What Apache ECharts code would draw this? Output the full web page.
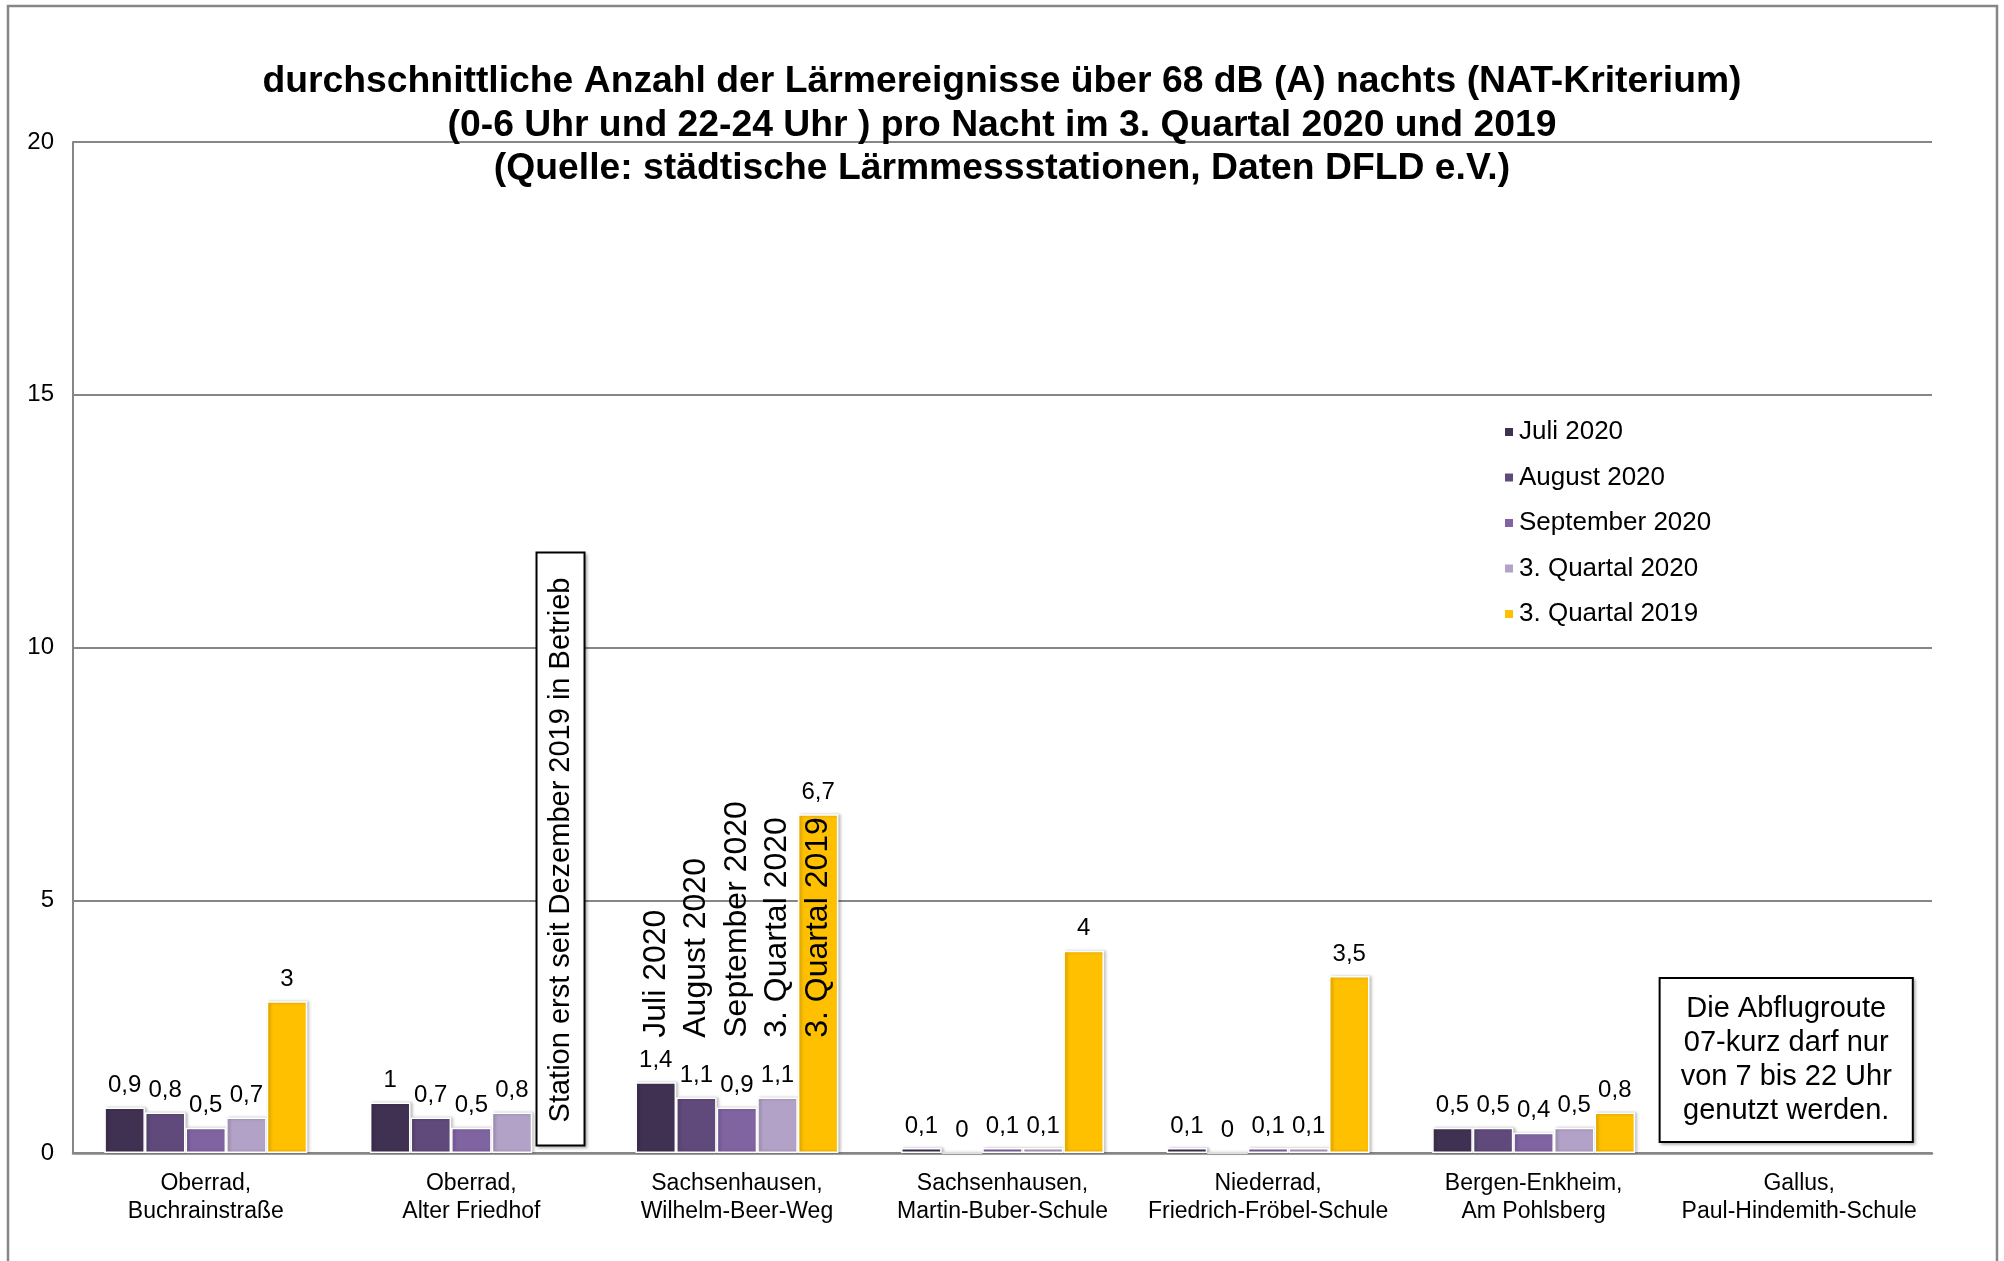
<!DOCTYPE html>
<html>
<head>
<meta charset="utf-8">
<script src="https://cdn.jsdelivr.net/npm/echarts@6/dist/echarts.min.js"></script>
<style>
html,body{margin:0;padding:0;background:#fff;}
#chart{width:2004px;height:1261px;}
</style>
</head>
<body>
<div id="chart"></div>
<script>
const categories = [
  "Oberrad,\nBuchrainstraße",
  "Oberrad,\nAlter Friedhof",
  "Sachsenhausen,\nWilhelm-Beer-Weg",
  "Sachsenhausen,\nMartin-Buber-Schule",
  "Niederrad,\nFriedrich-Fröbel-Schule",
  "Bergen-Enkheim,\nAm Pohlsberg",
  "Gallus,\nPaul-Hindemith-Schule"
];
const seriesNames = ["Juli 2020", "August 2020", "September 2020", "3. Quartal 2020", "3. Quartal 2019"];
const juli2020 = [0.9, 1, 1.4, 0.1, 0.1, 0.5, null];
const august2020 = [0.8, 0.7, 1.1, 0, 0, 0.5, null];
const september2020 = [0.5, 0.5, 0.9, 0.1, 0.1, 0.4, null];
const quartal2020 = [0.7, 0.8, 1.1, 0.1, 0.1, 0.5, null];
const quartal2019 = [3, null, 6.7, 4, 3.5, 0.8, null];
const seriesValues = [juli2020, august2020, september2020, quartal2020, quartal2019];
const colors = ["#403152", "#604A7B", "#8064A2", "#B3A2C7", "#FFC000"];
const yTicks = [0, 5, 10, 15, 20];

// annotations
const nameLabelCategory = 2;      // category where series names are written
const nameLabelValue = 2.28;      // value where the rotated series names start
const stationNote = "Station erst seit Dezember 2019 in Betrieb";
const stationNoteCategory = 1;
const stationNoteValue = 0.17;
const routeNote = "Die Abflugroute\n07-kurz darf nur\nvon 7 bis 22 Uhr\ngenutzt werden.";
const routeNoteCategory = 6;
const routeNoteValue = 1.84;

const FONT = "'Liberation Sans', Arial, sans-serif";
const fmt = v => (v === null || v === undefined) ? '' : String(v).replace('.', ',');

const chart = echarts.init(document.getElementById('chart'));

const series = seriesNames.map((name, i) => {
  const markData = [{
    coord: [nameLabelCategory, nameLabelValue],
    label: {formatter: name}
  }];
  if (i === 4) {
    markData.push({
      coord: [stationNoteCategory, stationNoteValue],
      label: {
        formatter: stationNote,
        fontSize: 29,
        lineHeight: 32,
        backgroundColor: '#fff',
        borderColor: '#000',
        borderWidth: 2,
        padding: [7, 24, 7, 22],
        offset: [0, 8],
        shadowColor: 'rgba(0,0,0,0.25)',
        shadowBlur: 3,
        shadowOffsetX: 2,
        shadowOffsetY: 2
      }
    });
  }
  if (i === 2) {
    markData.push({
      coord: [routeNoteCategory, routeNoteValue],
      label: {
        formatter: routeNote,
        rotate: 0,
        align: 'center',
        verticalAlign: 'middle',
        fontSize: 29,
        lineHeight: 34,
        backgroundColor: '#fff',
        borderColor: '#000',
        borderWidth: 2,
        padding: [13, 20, 13, 20],
        offset: [-13, 0],
        shadowColor: 'rgba(0,0,0,0.25)',
        shadowBlur: 3,
        shadowOffsetX: 2,
        shadowOffsetY: 2
      }
    });
  }
  return {
    name: name,
    type: 'bar',
    data: seriesValues[i],
    barGap: '0%',
    barCategoryGap: '23.6%',
    itemStyle: {
      color: colors[i],
      borderColor: '#fff',
      borderWidth: 1.5,
      shadowColor: 'rgba(0,0,0,0.25)',
      shadowBlur: 3,
      shadowOffsetX: 2,
      shadowOffsetY: 0
    },
    label: {
      show: true,
      position: 'top',
      distance: 10,
      fontSize: 24,
      fontFamily: FONT,
      color: '#000',
      formatter: p => fmt(p.value)
    },
    markPoint: {
      symbol: 'rect',
      symbolSize: 0,
      silent: true,
      label: {
        show: true,
        position: 'inside',
        rotate: 90,
        align: 'left',
        verticalAlign: 'middle',
        fontSize: 32,
        fontFamily: FONT,
        color: '#000'
      },
      data: markData
    }
  };
});

chart.setOption({
  backgroundColor: '#fff',
  animation: false,
  textStyle: {fontFamily: FONT},
  title: {
    text: "durchschnittliche Anzahl der Lärmereignisse über 68 dB (A) nachts (NAT-Kriterium)\n(0-6 Uhr und 22-24 Uhr ) pro Nacht im 3. Quartal 2020 und 2019\n(Quelle: städtische Lärmmessstationen, Daten DFLD e.V.)",
    left: 'center',
    top: 60,
    padding: 0,
    textStyle: {
      fontFamily: FONT,
      fontSize: 37.3,
      fontWeight: 'bold',
      lineHeight: 43.5,
      color: '#000'
    }
  },
  legend: {
    orient: 'vertical',
    left: 1503,
    top: 417,
    icon: 'rect',
    itemWidth: 10,
    itemHeight: 10,
    itemGap: 15.5,
    padding: 0,
    data: seriesNames,
    textStyle: {fontSize: 26, lineHeight: 30, color: '#000', fontFamily: FONT}
  },
  grid: {left: 73, right: 72, top: 142, bottom: 108, containLabel: false},
  xAxis: {
    type: 'category',
    data: categories,
    axisTick: {show: false},
    axisLine: {show: true, lineStyle: {color: '#868686', width: 2.5}},
    axisLabel: {
      interval: 0,
      fontSize: 23,
      lineHeight: 28,
      margin: 17,
      color: '#000',
      fontFamily: FONT
    }
  },
  yAxis: {
    type: 'value',
    min: yTicks[0],
    max: yTicks[yTicks.length - 1],
    interval: yTicks[1] - yTicks[0],
    axisLine: {show: true, lineStyle: {color: '#868686', width: 2}},
    axisTick: {show: false},
    splitLine: {show: true, lineStyle: {color: '#868686', width: 2}},
    axisLabel: {fontSize: 24, color: '#000', margin: 19, fontFamily: FONT}
  },
  graphic: [{
    type: 'rect',
    silent: true,
    z: -10,
    shape: {x: 8, y: 6, width: 1989, height: 1270},
    style: {fill: 'none', stroke: '#868686', lineWidth: 2.5}
  }],
  series: series
});
</script>
</body>
</html>
